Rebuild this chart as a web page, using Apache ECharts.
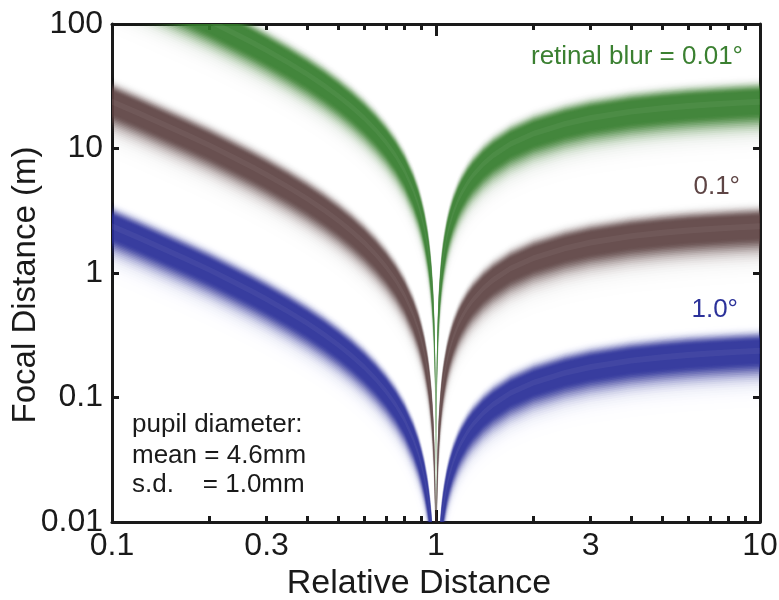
<!DOCTYPE html>
<html>
<head>
<meta charset="utf-8">
<script src="https://cdn.jsdelivr.net/npm/echarts@6/dist/echarts.min.js"></script>
<style>
  html, body { margin: 0; padding: 0; background: #fff; }
  #chart { width: 779px; height: 600px; }
</style>
</head>
<body>
<div id="chart"></div>
<script>
// relative distance samples, left of 1 and right of 1
var xLeft = [0.1, 0.12, 0.14, 0.17, 0.2, 0.23, 0.27, 0.3, 0.35, 0.4, 0.45, 0.5, 0.55, 0.6, 0.65, 0.7, 0.75, 0.8, 0.85, 0.88, 0.9, 0.92, 0.94, 0.95, 0.96, 0.97, 0.98, 0.985, 0.99, 0.993, 0.995, 0.997, 0.998, 0.999, 0.9995, 0.9998];
var xRight = [1.0002, 1.0005, 1.001, 1.002, 1.003, 1.005, 1.007, 1.01, 1.015, 1.02, 1.03, 1.04, 1.05, 1.06, 1.08, 1.1, 1.13, 1.17, 1.2, 1.25, 1.3, 1.4, 1.5, 1.7, 2, 2.5, 3, 4, 5, 6, 7, 8.5, 10];

// focal distance (m) of the band centres
var greenLeft = [238, 194, 162, 129, 106, 88.4, 71.4, 61.6, 49.0, 39.6, 32.3, 26.4, 21.6, 17.6, 14.2, 11.3, 8.8, 6.6, 4.66, 3.6, 2.93, 2.30, 1.69, 1.39, 1.10, 0.817, 0.539, 0.402, 0.267, 0.186, 0.133, 0.0794, 0.0529, 0.0264, 0.0132, 0.00528];
var greenRight = [0.00528, 0.0132, 0.0264, 0.0527, 0.079, 0.131, 0.184, 0.261, 0.390, 0.518, 0.769, 1.02, 1.26, 1.49, 1.96, 2.40, 3.04, 3.84, 4.40, 5.28, 6.09, 7.54, 8.80, 10.9, 13.2, 15.8, 17.6, 19.8, 21.1, 22.0, 22.6, 23.3, 23.8];
var brownLeft = [23.8, 19.4, 16.2, 12.9, 10.6, 8.84, 7.14, 6.16, 4.90, 3.96, 3.23, 2.64, 2.16, 1.76, 1.42, 1.13, 0.88, 0.66, 0.466, 0.36, 0.293, 0.230, 0.169, 0.139, 0.110, 0.0817, 0.0539, 0.0402, 0.0267, 0.0186, 0.0133, 0.00794, 0.00529, 0.00264, 0.00132, 0.000528];
var brownRight = [0.000528, 0.00132, 0.00264, 0.00527, 0.0079, 0.0131, 0.0184, 0.0261, 0.0390, 0.0518, 0.0769, 0.102, 0.126, 0.149, 0.196, 0.240, 0.304, 0.384, 0.440, 0.528, 0.609, 0.754, 0.880, 1.09, 1.32, 1.58, 1.76, 1.98, 2.11, 2.20, 2.26, 2.33, 2.38];
var blueLeft = [2.38, 1.94, 1.62, 1.29, 1.06, 0.884, 0.714, 0.616, 0.490, 0.396, 0.323, 0.264, 0.216, 0.176, 0.142, 0.113, 0.088, 0.066, 0.0466, 0.036, 0.0293, 0.0230, 0.0169, 0.0139, 0.0110, 0.00817, 0.00539, 0.00402, 0.00267, 0.00186, 0.00133, 0.000794, 0.000529, 0.000264, 0.000132, 0.0000528];
var blueRight = [0.0000528, 0.000132, 0.000264, 0.000527, 0.00079, 0.00131, 0.00184, 0.00261, 0.00390, 0.00518, 0.00769, 0.0102, 0.0126, 0.0149, 0.0196, 0.0240, 0.0304, 0.0384, 0.0440, 0.0528, 0.0609, 0.0754, 0.0880, 0.109, 0.132, 0.158, 0.176, 0.198, 0.211, 0.220, 0.226, 0.233, 0.238];

// pupil diameter (mm)
var pupilMean = 4.6;
var pupilSd = 1.0;

// axis ticks
var xMinorTicks = [0.2, 0.3, 0.4, 0.5, 0.6, 0.7, 0.8, 0.9, 2, 3, 4, 5, 6, 7, 8, 9];
var xMajorTicks = [0.1, 1, 10];
var xLabels = [0.1, 0.3, 1, 3, 10];

var FONT = '"Liberation Sans", Arial, Helvetica, sans-serif';
var INK = '#1a1a1a';

// soft band: nested layers (spread in s.d.), opacity builds up to a flat core
function coverage(k) {
  if (k <= 0.9) return 0.92;
  return 0.92 * Math.exp(-Math.pow((k - 0.9) / 0.85, 2));
}
var layers = [];
(function () {
  var prev = 0;
  for (var k = 3.0; k >= 0.8; k -= 0.1) {
    var c = coverage(k);
    layers.push({ k: k, a: 1 - (1 - c) / (1 - prev) });
    prev = c;
  }
})();

function band(name, color, left, right) {
  var items = layers.map(function (l, i) { return [1, 1, i]; });
  items.push([1, 1, -1]); // faint lighter centre
  return {
    type: 'custom',
    name: name,
    xAxisIndex: 0,
    yAxisIndex: 0,
    clip: true,
    silent: true,
    data: items,
    encode: { x: 0, y: 1 },
    renderItem: function (params, api) {
      var idx = api.value(2);
      var layer = idx < 0 ? { k: 0.25, a: 0.05 } : layers[idx];
      var fill = idx < 0 ? '#ffffff' : color;
      var hi = (pupilMean + layer.k * pupilSd) / pupilMean;
      var lo = (pupilMean - layer.k * pupilSd) / pupilMean;
      var kids = [[xLeft, left], [xRight, right]].map(function (br) {
        var xs = br[0], ys = br[1], pts = [], j;
        for (j = 0; j < xs.length; j++) pts.push(api.coord([xs[j], ys[j] * hi]));
        for (j = xs.length - 1; j >= 0; j--) pts.push(api.coord([xs[j], ys[j] * lo]));
        return { type: 'polygon', shape: { points: pts }, style: { fill: fill, opacity: layer.a } };
      });
      return { type: 'group', children: kids };
    }
  };
}

function fmt(v) { return String(parseFloat(Number(v).toPrecision(3))); }

function xAx(grid, pos, ticks, len, labels) {
  return {
    type: 'log', gridIndex: grid, position: pos, min: 0.1, max: 10,
    axisLine: { show: grid === 0, lineStyle: { color: INK, width: 3 } },
    axisTick: { show: true, inside: true, length: len, customValues: ticks, lineStyle: { color: INK, width: 3 } },
    axisLabel: labels ? {
      show: true, customValues: labels, margin: 8, color: INK, fontSize: 32, fontFamily: FONT, formatter: fmt
    } : { show: false },
    splitLine: { show: false },
    minorTick: { show: false }
  };
}

function yAx(grid, pos, labels) {
  return {
    type: 'log', gridIndex: grid, position: pos, min: 0.01, max: 100,
    axisLine: { show: grid === 0, lineStyle: { color: INK, width: 3 } },
    axisTick: { show: grid === 0, inside: true, length: 7, lineStyle: { color: INK, width: 3 } },
    axisLabel: labels ? {
      show: true, margin: 9, color: INK, fontSize: 32, fontFamily: FONT, formatter: fmt
    } : { show: false },
    splitLine: { show: false }
  };
}

var chart = echarts.init(document.getElementById('chart'), null, { renderer: 'canvas' });

var xAxes = [
  xAx(0, 'bottom', xMinorTicks, 6, xLabels),
  xAx(0, 'top', xMinorTicks, 6, null),
  xAx(1, 'bottom', xMajorTicks, 12, null),
  xAx(1, 'top', xMajorTicks, 12, null)
];
xAxes[0].name = 'Relative Distance';
xAxes[0].nameLocation = 'middle';
xAxes[0].nameGap = 40;
xAxes[0].nameTextStyle = { color: INK, fontSize: 34, fontFamily: FONT, padding: [0, 34, 0, 0] };

var yAxes = [yAx(0, 'left', true), yAx(0, 'right', false), yAx(1, 'left', false), yAx(1, 'right', false)];

var gridBox = { left: 112, top: 24, right: 19, bottom: 78, outerBoundsMode: 'none', containLabel: false };

var option = {
  backgroundColor: '#fff',
  animation: false,
  grid: [Object.assign({}, gridBox), Object.assign({}, gridBox)],
  xAxis: xAxes,
  yAxis: yAxes,
  series: [
    band('1.0°', '#2a2f98', blueLeft, blueRight),
    band('0.1°', '#5f4444', brownLeft, brownRight),
    band('0.01°', '#367d2c', greenLeft, greenRight)
  ],
  graphic: [
    { type: 'text', x: 26, y: 285, rotation: Math.PI / 2, style: { text: 'Focal Distance (m)', fill: INK, font: '33px ' + FONT, align: 'center', verticalAlign: 'middle' } },
    { type: 'text', x: 743, y: 57, style: { text: 'retinal blur = 0.01°', fill: '#3b8031', font: '26px ' + FONT, align: 'right', verticalAlign: 'middle' } },
    { type: 'text', x: 740, y: 187, style: { text: '0.1°', fill: '#5e4545', font: '26px ' + FONT, align: 'right', verticalAlign: 'middle' } },
    { type: 'text', x: 738, y: 310, style: { text: '1.0°', fill: '#2c329a', font: '26px ' + FONT, align: 'right', verticalAlign: 'middle' } },
    { type: 'text', x: 132, y: 425, style: { text: 'pupil diameter:', fill: INK, font: '26px ' + FONT, align: 'left', verticalAlign: 'middle' } },
    { type: 'text', x: 132, y: 456, style: { text: 'mean = 4.6mm', fill: INK, font: '26px ' + FONT, align: 'left', verticalAlign: 'middle' } },
    { type: 'text', x: 132, y: 485, style: { text: 's.d.    = 1.0mm', fill: INK, font: '26px ' + FONT, align: 'left', verticalAlign: 'middle' } }
  ]
};

chart.setOption(option);
</script>
</body>
</html>
